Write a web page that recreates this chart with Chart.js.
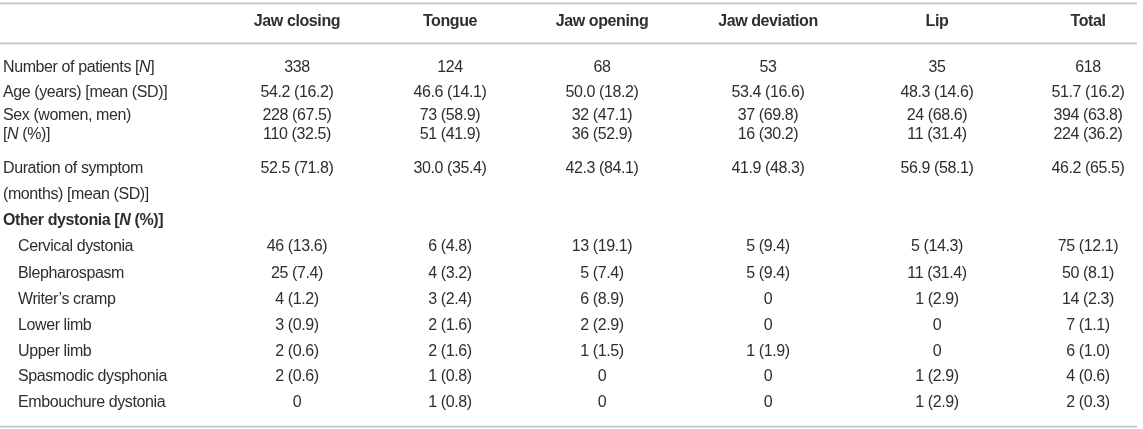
<!DOCTYPE html>
<html>
<head>
<meta charset="utf-8">
<script src="https://cdn.jsdelivr.net/npm/chart.js@4/dist/chart.umd.min.js"></script>
<style>
  html, body { margin: 0; padding: 0; background: #fff; }
  #wrap { width: 1143px; height: 429px; }
</style>
</head>
<body>
<div id="wrap"><canvas id="c" width="1143" height="429"></canvas></div>
<script>
// ---- DATA ----
const columns = ['Jaw closing', 'Tongue', 'Jaw opening', 'Jaw deviation', 'Lip', 'Total'];

// Row labels (each row may have several text lines; *x* = italic run)
const rowLabels = [
  ['Number of patients [*N*]'],
  ['Age (years) [mean (SD)]'],
  ['Sex (women, men)', '[*N* (%)]'],
  ['Duration of symptom', '(months) [mean (SD)]'],
  ['Other dystonia [*N* (%)]'],
  ['Cervical dystonia'],
  ['Blepharospasm'],
  ['Writer\u2019s cramp'],
  ['Lower limb'],
  ['Upper limb'],
  ['Spasmodic dysphonia'],
  ['Embouchure dystonia']
];
const boldRows = [4];
const indentRows = [5, 6, 7, 8, 9, 10, 11];

const jawClosing   = [['338'], ['54.2 (16.2)'], ['228 (67.5)', '110 (32.5)'], ['52.5 (71.8)'], [], ['46 (13.6)'], ['25 (7.4)'], ['4 (1.2)'], ['3 (0.9)'], ['2 (0.6)'], ['2 (0.6)'], ['0']];
const tongue       = [['124'], ['46.6 (14.1)'], ['73 (58.9)', '51 (41.9)'],   ['30.0 (35.4)'], [], ['6 (4.8)'],   ['4 (3.2)'],  ['3 (2.4)'], ['2 (1.6)'], ['2 (1.6)'], ['1 (0.8)'], ['1 (0.8)']];
const jawOpening   = [['68'],  ['50.0 (18.2)'], ['32 (47.1)', '36 (52.9)'],   ['42.3 (84.1)'], [], ['13 (19.1)'], ['5 (7.4)'],  ['6 (8.9)'], ['2 (2.9)'], ['1 (1.5)'], ['0'],       ['0']];
const jawDeviation = [['53'],  ['53.4 (16.6)'], ['37 (69.8)', '16 (30.2)'],   ['41.9 (48.3)'], [], ['5 (9.4)'],   ['5 (9.4)'],  ['0'],       ['0'],       ['1 (1.9)'], ['0'],       ['0']];
const lip          = [['35'],  ['48.3 (14.6)'], ['24 (68.6)', '11 (31.4)'],   ['56.9 (58.1)'], [], ['5 (14.3)'],  ['11 (31.4)'],['1 (2.9)'], ['0'],       ['0'],       ['1 (2.9)'], ['1 (2.9)']];
const total        = [['618'], ['51.7 (16.2)'], ['394 (63.8)', '224 (36.2)'], ['46.2 (65.5)'], [], ['75 (12.1)'], ['50 (8.1)'], ['14 (2.3)'],['7 (1.1)'], ['6 (1.0)'], ['4 (0.6)'], ['2 (0.3)']];
const columnValues = [jawClosing, tongue, jawOpening, jawDeviation, lip, total];

// ---- LAYOUT (table units on linear scales) ----
const labelX = 3, indentX = 18;
const colX = [297, 450, 602, 768, 937, 1088];
const headerY = 22;
const rowLineY = [[68], [93], [116, 135], [169, 195], [221], [247], [274], [300], [326], [352], [377], [403]];
const rulesY = [3.3, 43.3, 426.7];
const ruleX = [0, 1137];
const FONT = '"Liberation Sans", Arial, Helvetica, sans-serif';
const FSIZE = 16;
const SPACING = '-0.4px';
const TEXT = '#2e2e2e';

// build datasets
function mk(x, y, text, opts) { return Object.assign({ x, y, text }, opts || {}); }
const labelPts = [];
rowLabels.forEach((lines, r) => {
  lines.forEach((t, k) => labelPts.push(mk(indentRows.includes(r) ? indentX : labelX, rowLineY[r][k], t,
    { align: 'left', bold: boldRows.includes(r) })));
});
const datasets = [{ label: 'rows', data: labelPts }];
columns.forEach((name, c) => {
  const pts = [mk(colX[c], headerY, name, { align: 'center', bold: true })];
  columnValues[c].forEach((lines, r) => lines.forEach((t, k) => pts.push(mk(colX[c], rowLineY[r][k], t, { align: 'center' }))));
  datasets.push({ label: name, data: pts });
});

function runs(text) {
  const parts = text.split('*');
  return parts.map((p, i) => ({ t: p, it: i % 2 === 1 })).filter(p => p.t.length);
}
function fontFor(bold, it) { return (it ? 'italic ' : '') + (bold ? 'bold ' : '') + FSIZE + 'px ' + FONT; }

const tablePlugin = {
  id: 'tableText',
  beforeDatasetsDraw(chart) {
    const ctx = chart.ctx, xs = chart.scales.x, ys = chart.scales.y;
    ctx.save();
    ctx.strokeStyle = '#c4c4c4';
    ctx.lineWidth = 1.8;
    rulesY.forEach(v => {
      const py = ys.getPixelForValue(v);
      ctx.beginPath();
      ctx.moveTo(xs.getPixelForValue(ruleX[0]), py);
      ctx.lineTo(xs.getPixelForValue(ruleX[1]), py);
      ctx.stroke();
    });
    ctx.restore();
  },
  afterDatasetsDraw(chart) {
    const ctx = chart.ctx;
    ctx.save();
    ctx.fillStyle = TEXT;
    ctx.textBaseline = 'middle';
    if ('letterSpacing' in ctx) ctx.letterSpacing = SPACING;
    chart.data.datasets.forEach((ds, di) => {
      const meta = chart.getDatasetMeta(di);
      meta.data.forEach((el, i) => {
        const p = ds.data[i];
        const rs = runs(p.text);
        let w = 0;
        rs.forEach(r => { ctx.font = fontFor(p.bold, r.it); r.w = ctx.measureText(r.t).width; w += r.w; });
        let x = p.align === 'center' ? el.x - w / 2 : el.x;
        ctx.textAlign = 'left';
        rs.forEach(r => { ctx.font = fontFor(p.bold, r.it); ctx.fillText(r.t, x, el.y); x += r.w; });
      });
    });
    ctx.restore();
  }
};

new Chart(document.getElementById('c'), {
  type: 'scatter',
  data: { datasets },
  options: {
    responsive: false,
    animation: false,
    layout: { padding: 0 },
    elements: { point: { radius: 0, hoverRadius: 0 } },
    plugins: { legend: { display: false }, tooltip: { enabled: false } },
    events: [],
    scales: {
      x: { type: 'linear', min: 0, max: 1143, display: false },
      y: { type: 'linear', min: 0, max: 429, reverse: true, display: false }
    }
  },
  plugins: [tablePlugin]
});
</script>
</body>
</html>
